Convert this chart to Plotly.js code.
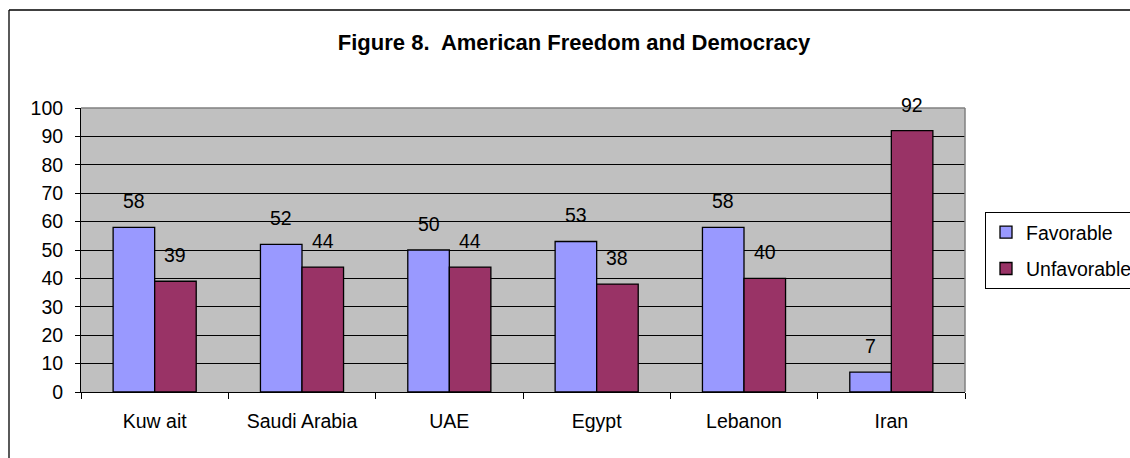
<!DOCTYPE html>
<html><head><meta charset="utf-8">
<script src="https://cdn.plot.ly/plotly-3.0.1.min.js"></script>
<style>body{margin:0;background:#fff}#chart{width:1130px;height:458px}</style>
</head><body><div id="chart"></div>
<script>
const categories = ["Kuw ait", "Saudi Arabia", "UAE", "Egypt", "Lebanon", "Iran"];
const favorable = [58, 52, 50, 53, 58, 7];
const unfavorable = [39, 44, 44, 38, 40, 92];
const seriesNames = ["Favorable", "Unfavorable"];
const seriesColors = ["#9999FF", "#993366"];
const yTickVals = [0, 10, 20, 30, 40, 50, 60, 70, 80, 90, 100];
const chartTitle = "Figure 8.\u00a0 American Freedom and Democracy";

const W = 1130, H = 458;
const M = {l: 81, r: 165, t: 108, b: 66, autoexpand: false};
const plotW = W - M.l - M.r, plotH = H - M.t - M.b;
const bargap = 0.436;
const barW = plotW / categories.length * (1 - bargap) / 2;
const FONT = "Liberation Sans, Arial, sans-serif";
const FS = 19.5;

const seriesVals = [favorable, unfavorable];
const traces = seriesVals.map((vals, k) => ({
  type: "bar", name: seriesNames[k], x: categories, y: vals,
  legendgroup: "g" + k,
  marker: {color: seriesColors[k], line: {color: "#000", width: 1.3}},
  hoverinfo: "x+y+name"
}));

const annotations = [];
seriesVals.forEach((vals, k) => {
  vals.forEach((v, i) => {
    annotations.push({
      x: categories[i], y: v, xref: "x", yref: "y",
      xshift: (k === 0 ? -1 : 1) * barW / 2, yshift: 26,
      yanchor: "middle", xanchor: "center", showarrow: false,
      text: String(v), font: {family: FONT, size: FS, color: "#000"}
    });
  });
});

const px = x => (x - M.l) / plotW;
const py = y => (H - M.b - y) / plotH;

const layout = {
  width: W, height: H,
  margin: M,
  paper_bgcolor: "#fff", plot_bgcolor: "#C0C0C0",
  font: {family: FONT, size: FS, color: "#000"},
  title: {text: chartTitle, x: 574 / W, xanchor: "center", xref: "container",
          y: 1 - 42 / H, yanchor: "middle", yref: "container",
          font: {family: FONT, size: 22, weight: "bold", color: "#000"}},
  barmode: "group", bargap: bargap, bargroupgap: 0,
  xaxis: {type: "category", tickson: "boundaries", ticks: "outside", ticklen: 6,
          tickcolor: "#000", showline: true, linecolor: "#000", linewidth: 1,
          showgrid: false, ticklabelstandoff: 12, tickfont: {size: FS}},
  yaxis: {range: [0, 100], tickvals: yTickVals, ticks: "outside", ticklen: 5,
          tickcolor: "#000", showline: true, linecolor: "#000", linewidth: 1,
          showgrid: true, gridcolor: "#000", gridwidth: 1, zeroline: false,
          ticklabelstandoff: 8, tickfont: {size: FS}},
  legend: {x: px(985), xanchor: "left", y: py(212), yanchor: "top",
           bgcolor: "#fff", bordercolor: "#000", borderwidth: 1,
           traceorder: "grouped", tracegroupgap: 8,
           font: {family: FONT, size: FS, color: "#000"}},
  annotations: annotations,
  shapes: [
    {type: "line", xref: "paper", yref: "paper", x0: 0, x1: 1, y0: 1, y1: 1,
     line: {color: "#808080", width: 1.5}, layer: "above"},
    {type: "line", xref: "paper", yref: "paper", x0: 1, x1: 1, y0: 0, y1: 1,
     line: {color: "#808080", width: 1.5}, layer: "above"},
    {type: "line", xref: "paper", yref: "paper", x0: px(9), x1: px(1140),
     y0: py(10), y1: py(10), line: {color: "#000", width: 1.3}, layer: "above"},
    {type: "line", xref: "paper", yref: "paper", x0: px(9), x1: px(9),
     y0: py(10), y1: py(470), line: {color: "#000", width: 1.3}, layer: "above"}
  ]
};

Plotly.newPlot("chart", traces, layout, {displayModeBar: false, staticPlot: true});
</script></body></html>
